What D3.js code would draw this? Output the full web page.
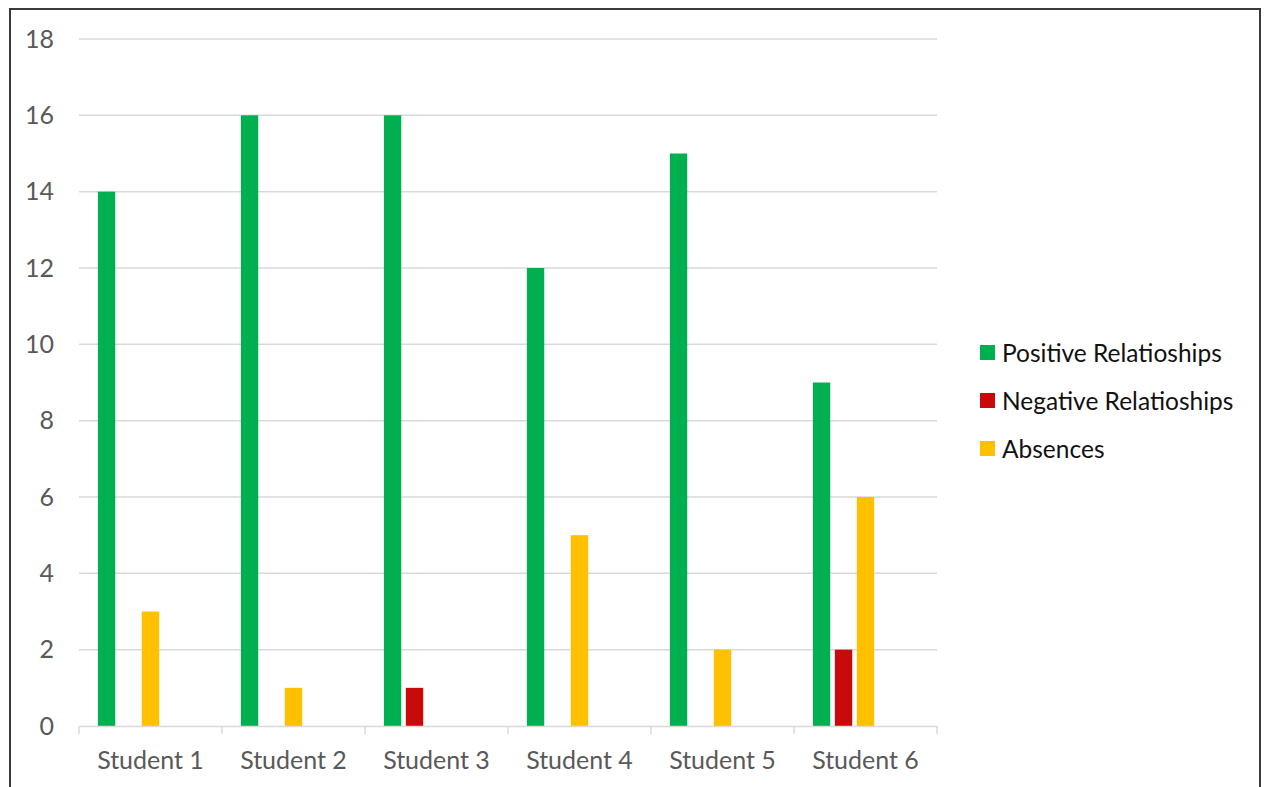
<!DOCTYPE html>
<html lang="en">
<head>
<meta charset="UTF-8">
<title>Student Relationships</title>
<script src="https://d3js.org/d3.v7.min.js"></script>
<style>
    body { margin: 0; background: #fff; font-family: Lato, "Open Sans", sans-serif; }
    .tick text { fill: #595959; }
</style>
</head>
<body>
<svg id="chart" width="1266" height="787"></svg>
<script>
const students = ["Student 1", "Student 2", "Student 3", "Student 4", "Student 5", "Student 6"];
const seriesNames = ["Positive Relatioships", "Negative Relatioships", "Absences"];
const seriesColors = ["#00b050", "#c80a0a", "#ffc000"];
const positive = [14, 16, 16, 12, 15, 9];
const negative = [0, 0, 1, 0, 0, 2];
const absences = [3, 1, 0, 5, 2, 6];
const yTicks = [0, 2, 4, 6, 8, 10, 12, 14, 16, 18];

const seriesValues = [positive, negative, absences];
// excel left room for 5 bars per group (two series empty)
const slotCount = 5;

const svg = d3.select("#chart");
const plot = { left: 79, right: 937, top: 39, bottom: 726 };

// outer frame
svg.append("rect")
    .attr("x", 10).attr("y", 9)
    .attr("width", 1250).attr("height", 800)
    .attr("fill", "none")
    .attr("stroke", "#3a3a3a")
    .attr("stroke-width", 2);

const x0 = d3.scaleBand().domain(students).range([plot.left, plot.right]);
const x1 = d3.scaleBand().domain(d3.range(slotCount))
    .range([0, x0.bandwidth()])
    .paddingInner(0.21).paddingOuter(0.86);
const y = d3.scaleLinear().domain([0, 18]).range([plot.bottom, plot.top]);

// gridlines
svg.append("g").selectAll("line")
    .data(yTicks.filter(d => d > 0))
    .join("line")
    .attr("x1", plot.left).attr("x2", plot.right)
    .attr("y1", d => y(d)).attr("y2", d => y(d))
    .attr("stroke", "#d9d9d9").attr("stroke-width", 1.5);

// y axis labels
const yAxis = svg.append("g")
    .attr("transform", `translate(${plot.left},0)`)
    .call(d3.axisLeft(y).tickValues(yTicks).tickSize(0).tickPadding(25));
yAxis.select(".domain").remove();
yAxis.selectAll("text").attr("font-size", 25).attr("font-family", "Lato, sans-serif");

// bars
const groups = svg.append("g").selectAll("g")
    .data(students)
    .join("g")
    .attr("transform", d => `translate(${x0(d)},0)`);

groups.selectAll("rect")
    .data((d, i) => seriesValues.map((vals, s) => ({ s, v: vals[i] })))
    .join("rect")
    .attr("x", d => x1(d.s))
    .attr("width", x1.bandwidth())
    .attr("y", d => y(d.v))
    .attr("height", d => y(0) - y(d.v))
    .attr("fill", d => seriesColors[d.s]);

// x axis
const xAxis = svg.append("g")
    .attr("transform", `translate(0,${plot.bottom})`)
    .call(d3.axisBottom(x0).tickSize(0).tickPadding(25));
xAxis.select(".domain").attr("stroke", "#d9d9d9").attr("stroke-width", 1.5);
xAxis.selectAll("text").attr("font-size", 25).attr("font-family", "Lato, sans-serif").attr("fill", "#111");
xAxis.selectAll(".bounds")
    .data(d3.range(students.length + 1))
    .join("line")
    .attr("x1", i => plot.left + i * x0.step())
    .attr("x2", i => plot.left + i * x0.step())
    .attr("y1", 0).attr("y2", 8)
    .attr("stroke", "#d9d9d9").attr("stroke-width", 1.5);

// legend
const legend = svg.append("g").attr("transform", "translate(980,345)");
const item = legend.selectAll("g")
    .data(seriesNames)
    .join("g")
    .attr("transform", (d, i) => `translate(0,${i * 48})`);
item.append("rect")
    .attr("width", 15).attr("height", 15)
    .attr("fill", (d, i) => seriesColors[i]);
item.append("text")
    .attr("x", 22).attr("y", 8)
    .attr("dy", "0.35em")
    .attr("font-size", 24.5)
    .attr("fill", "#111")
    .text(d => d);
</script>
</body>
</html>
